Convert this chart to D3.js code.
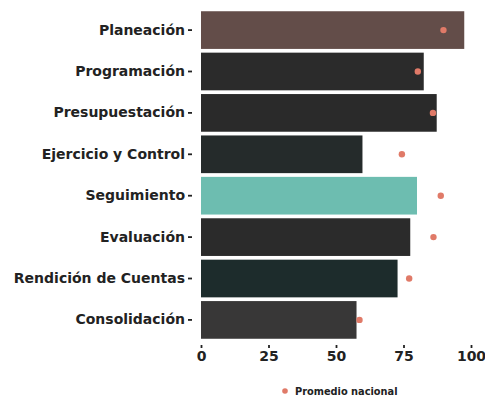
<!DOCTYPE html>
<html>
<head>
<meta charset="utf-8">
<script src="https://cdn.jsdelivr.net/npm/d3@7"></script>
<style>
  body { margin: 0; background: #fff; }
  text { font-family: "DejaVu Sans", sans-serif; font-weight: 700; fill: #222; }
</style>
</head>
<body>
<div id="chart"></div>
<script>
// etapas y valores
var etapas = ["Planeación", "Programación", "Presupuestación", "Ejercicio y Control",
  "Seguimiento", "Evaluación", "Rendición de Cuentas", "Consolidación"];
var valores = [97.5, 82.5, 87.3, 59.8, 80, 77.5, 72.8, 57.6];
var promedio = [89.8, 80.3, 85.9, 74.4, 88.8, 86.1, 77.1, 58.7];
var colores = ["#634d49", "#2b2b2b", "#2a2a2a", "#252b2b", "#6dbdb0", "#2b2b2b", "#1d2c2c", "#383737"];
var ticks = [0, 25, 50, 75, 100];

var w = 485, h = 407;
var margin = {top: 10, right: 14, bottom: 67, left: 201};

var svg = d3.select("#chart").append("svg")
  .attr("width", w)
  .attr("height", h);

var xScale = d3.scaleLinear()
  .domain([0, 100])
  .range([margin.left, w - margin.right]);

var yScale = d3.scaleBand()
  .domain(etapas)
  .range([margin.top, h - margin.bottom])
  .paddingInner(0.09)
  .paddingOuter(0.03);

// barras
svg.append("g").selectAll("rect")
  .data(etapas)
  .enter().append("rect")
  .attr("x", xScale(0))
  .attr("y", d => yScale(d))
  .attr("width", (d, i) => xScale(valores[i]) - xScale(0))
  .attr("height", yScale.bandwidth())
  .attr("fill", (d, i) => colores[i]);

// promedio nacional
svg.append("g").selectAll("circle")
  .data(etapas)
  .enter().append("circle")
  .attr("cx", (d, i) => xScale(promedio[i]))
  .attr("cy", d => yScale(d) + yScale.bandwidth() / 2)
  .attr("r", 3.2)
  .attr("fill", "#e07a68");

// eje y
var yAxis = g => {
  g.call(d3.axisLeft(yScale).tickSize(4).tickPadding(3));
  g.select(".domain").remove();
  g.selectAll(".tick line").attr("stroke", "#222").attr("stroke-width", 1.8);
  g.selectAll(".tick text").attr("font-size", 14).style("font-family", "DejaVu Sans").style("font-weight", 700);
};
svg.append("g")
  .attr("transform", "translate(" + (margin.left - 9) + ",0)")
  .call(yAxis);

// eje x
var xAxis = g => {
  g.call(d3.axisBottom(xScale).tickValues(ticks).tickSize(3).tickPadding(3));
  g.select(".domain").remove();
  g.selectAll(".tick line").attr("stroke", "#222").attr("stroke-width", 1.8);
  g.selectAll(".tick text").attr("font-size", 14).style("font-family", "DejaVu Sans").style("font-weight", 700);
};
svg.append("g")
  .attr("transform", "translate(0," + (h - margin.bottom + 5) + ")")
  .call(xAxis);

// leyenda
var leyenda = svg.append("g").attr("transform", "translate(285,391)");
leyenda.append("circle").attr("r", 2.8).attr("fill", "#e07a68");
leyenda.append("text")
  .attr("x", 10)
  .attr("y", 3.5)
  .attr("font-size", 9.8)
  .text("Promedio nacional");
</script>
</body>
</html>
